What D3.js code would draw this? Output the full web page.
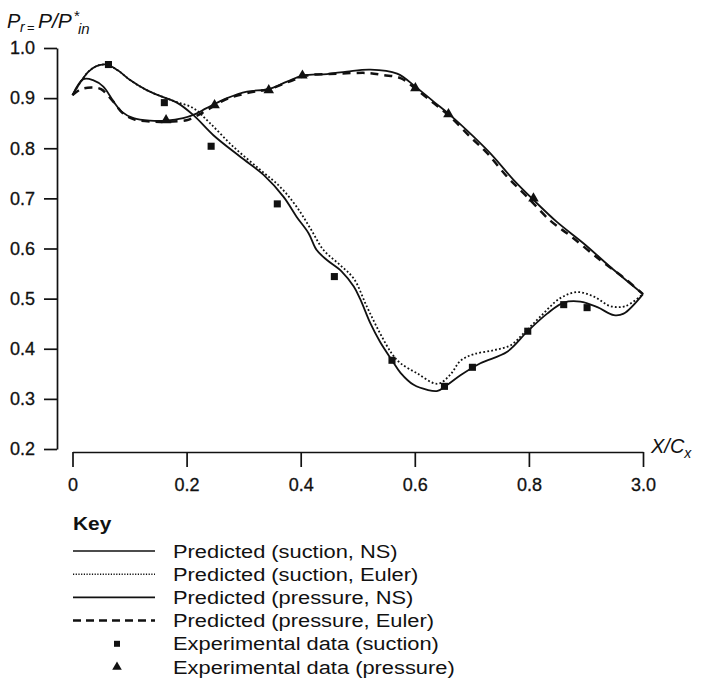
<!DOCTYPE html>
<html>
<head>
<meta charset="utf-8">
<script src="https://cdn.jsdelivr.net/npm/d3@7"></script>
<style>
  body { margin: 0; background: #fff; }
  svg { font-family: "Liberation Sans", Arial, Helvetica, sans-serif; }
</style>
</head>
<body>
<div id="chart"></div>
<script>
// ---- data: [X/Cx, Pr] ----
const suctionNS = [
  [0, 0.906], [0.013, 0.930], [0.028, 0.953], [0.042, 0.964], [0.060, 0.967], [0.080, 0.955],
  [0.101, 0.936], [0.130, 0.916], [0.159, 0.902], [0.183, 0.891], [0.212, 0.866], [0.247, 0.826],
  [0.294, 0.783], [0.335, 0.747], [0.370, 0.703], [0.393, 0.663], [0.414, 0.630], [0.428, 0.597],
  [0.446, 0.577], [0.472, 0.554], [0.493, 0.524], [0.504, 0.500], [0.522, 0.451], [0.539, 0.414],
  [0.560, 0.377], [0.575, 0.352], [0.598, 0.328], [0.622, 0.318], [0.640, 0.316], [0.656, 0.327],
  [0.680, 0.347], [0.715, 0.371], [0.762, 0.394], [0.797, 0.434], [0.832, 0.470], [0.861, 0.492],
  [0.890, 0.494], [0.920, 0.483], [0.949, 0.467], [0.966, 0.470], [1.0, 0.509]
];
const suctionEuler = [
  [0, 0.906], [0.013, 0.930], [0.028, 0.953], [0.042, 0.964], [0.060, 0.967], [0.080, 0.955],
  [0.101, 0.936], [0.130, 0.916], [0.159, 0.902], [0.183, 0.892], [0.212, 0.880], [0.241, 0.850],
  [0.282, 0.803], [0.329, 0.757], [0.364, 0.723], [0.393, 0.683], [0.417, 0.640], [0.440, 0.597],
  [0.469, 0.567], [0.493, 0.540], [0.516, 0.484], [0.539, 0.431], [0.560, 0.390], [0.575, 0.371],
  [0.604, 0.351], [0.640, 0.330], [0.662, 0.348], [0.680, 0.376], [0.703, 0.389], [0.738, 0.397],
  [0.768, 0.407], [0.791, 0.431], [0.820, 0.464], [0.855, 0.501], [0.885, 0.513], [0.914, 0.504],
  [0.943, 0.485], [0.969, 0.485], [1.0, 0.509]
];
const pressureNS = [
  [0, 0.906], [0.019, 0.938], [0.036, 0.936], [0.054, 0.923], [0.072, 0.893], [0.086, 0.873],
  [0.107, 0.860], [0.136, 0.855], [0.164, 0.855], [0.194, 0.860], [0.215, 0.868], [0.235, 0.880],
  [0.271, 0.900], [0.306, 0.913], [0.344, 0.918], [0.376, 0.933], [0.403, 0.945], [0.446, 0.948],
  [0.481, 0.953], [0.522, 0.957], [0.569, 0.949], [0.601, 0.923], [0.633, 0.893], [0.662, 0.866],
  [0.703, 0.823], [0.738, 0.783], [0.773, 0.737], [0.808, 0.697], [0.849, 0.653], [0.896, 0.610],
  [0.949, 0.557], [1.0, 0.509]
];
const pressureEuler = [
  [0, 0.906], [0.015, 0.918], [0.035, 0.921], [0.050, 0.918], [0.070, 0.895], [0.090, 0.868],
  [0.110, 0.857], [0.140, 0.853], [0.170, 0.853], [0.200, 0.856], [0.220, 0.866], [0.240, 0.879],
  [0.270, 0.898], [0.310, 0.911], [0.345, 0.918], [0.380, 0.933], [0.410, 0.945], [0.450, 0.948],
  [0.490, 0.950], [0.520, 0.950], [0.545, 0.946], [0.575, 0.940], [0.604, 0.916], [0.633, 0.890],
  [0.662, 0.863], [0.697, 0.823], [0.727, 0.790], [0.762, 0.743], [0.797, 0.703], [0.838, 0.655],
  [0.873, 0.625], [0.925, 0.577], [0.966, 0.542], [1.0, 0.509]
];
const expSuction = [
  [0.063, 0.967], [0.161, 0.891], [0.243, 0.804], [0.359, 0.689], [0.459, 0.544], [0.560, 0.377],
  [0.652, 0.325], [0.701, 0.363], [0.798, 0.435], [0.861, 0.488], [0.902, 0.482]
];
const expPressure = [
  [0.164, 0.856], [0.249, 0.886], [0.344, 0.916], [0.403, 0.945], [0.601, 0.920], [0.659, 0.868],
  [0.808, 0.700]
];
const xTicks = [0, 0.2, 0.4, 0.6, 0.8, 1.0];
const xTickLabels = ["0", "0.2", "0.4", "0.6", "0.8", "3.0"];
const yTicks = [0.2, 0.3, 0.4, 0.5, 0.6, 0.7, 0.8, 0.9, 1.0];
const legendLabels = [
  "Predicted (suction, NS)", "Predicted (suction, Euler)", "Predicted (pressure, NS)",
  "Predicted (pressure, Euler)", "Experimental data (suction)", "Experimental data (pressure)"
];

// ---- layout ----
const width = 701, height = 682;
const svg = d3.select("#chart").append("svg")
  .attr("width", width).attr("height", height);

const x = d3.scaleLinear().domain([0, 1]).range([72.5, 643]);
const y = d3.scaleLinear().domain([0.2, 1.0]).range([449, 48]);
const yAxisX = 57, xAxisY = 452;

// y axis
svg.append("g")
  .attr("transform", `translate(${yAxisX},0)`)
  .call(d3.axisLeft(y).tickValues(yTicks).tickFormat(d3.format(".1f"))
    .tickSize(13).tickSizeOuter(0).tickPadding(9));
// x axis
svg.append("g")
  .attr("transform", `translate(0,${xAxisY})`)
  .call(d3.axisBottom(x).tickValues(xTicks).tickFormat((d, i) => xTickLabels[i])
    .tickSize(15).tickSizeOuter(0).tickPadding(11));

svg.selectAll(".domain, .tick line").attr("stroke", "#111").attr("stroke-width", 1.7);
svg.selectAll(".tick text").attr("font-size", 18).attr("fill", "#111")
  .attr("stroke", "#111").attr("stroke-width", 0.3)
  .attr("font-family", "'Liberation Sans', Arial, sans-serif");

// axis titles (each piece placed on its own so nothing collides)
const titleParts = [
  {t: "P", x: 7, y: 28, s: 20, it: true},
  {t: "r", x: 20, y: 32, s: 14, it: true},
  {t: "=", x: 27, y: 32, s: 13, it: false},
  {t: "P/P", x: 38, y: 28, s: 21, it: true},
  {t: "*", x: 74, y: 21, s: 15, it: false},
  {t: "in", x: 78, y: 34, s: 15, it: true}
];
svg.append("g").selectAll("text").data(titleParts).join("text")
  .attr("x", d => d.x).attr("y", d => d.y)
  .attr("font-size", d => d.s).attr("font-style", d => d.it ? "italic" : "normal")
  .attr("fill", "#111").text(d => d.t);

const xt = svg.append("text").attr("x", 651).attr("y", 453)
  .attr("font-size", 20).attr("font-style", "italic").attr("fill", "#111");
xt.append("tspan").text("X/C");
xt.append("tspan").attr("font-size", 14).attr("dy", 5).text("x");

// ---- curves ----
const line = d3.line().x(d => x(d[0])).y(d => y(d[1])).curve(d3.curveCatmullRom.alpha(0.5));

const series = [
  {data: suctionEuler, dash: "1.8,2.2", w: 1.8},
  {data: pressureEuler, dash: "8,6", w: 2.5},
  {data: suctionNS, dash: null, w: 1.8},
  {data: pressureNS, dash: null, w: 1.8}
];
svg.append("g").selectAll("path").data(series).join("path")
  .attr("d", d => line(d.data))
  .attr("fill", "none").attr("stroke", "#111")
  .attr("stroke-width", d => d.w)
  .attr("stroke-dasharray", d => d.dash);

// ---- experimental markers ----
svg.append("g").selectAll("path").data(expSuction).join("path")
  .attr("transform", d => `translate(${x(d[0])},${y(d[1])})`)
  .attr("d", d3.symbol(d3.symbolSquare, 50))
  .attr("fill", "#111");
svg.append("g").selectAll("path").data(expPressure).join("path")
  .attr("transform", d => `translate(${x(d[0])},${y(d[1])})`)
  .attr("d", d3.symbol(d3.symbolTriangle, 48))
  .attr("fill", "#111");

// ---- key ----
const key = svg.append("g");
key.append("text").attr("transform", "translate(73,523) scale(1.1,1)").attr("dy", "0.35em")
  .attr("font-size", 19).attr("font-weight", "bold").attr("fill", "#111").text("Key");

const rowY = d3.scalePoint().domain(d3.range(6)).range([551, 667]);
const legendStyle = [
  {type: "line", dash: null, w: 1.6},
  {type: "line", dash: "1.2,1.5", w: 1.4},
  {type: "line", dash: null, w: 1.6},
  {type: "line", dash: "8,5", w: 2.5},
  {type: "square"},
  {type: "triangle"}
];
const rows = key.selectAll("g.row").data(legendLabels).join("g").attr("class", "row")
  .attr("transform", (d, i) => `translate(0,${rowY(i)})`);
rows.each(function (d, i) {
  const g = d3.select(this), s = legendStyle[i];
  if (s.type === "line") {
    g.append("line").attr("x1", 73).attr("x2", 155).attr("y1", 0).attr("y2", 0)
      .attr("stroke", "#111").attr("stroke-width", s.w).attr("stroke-dasharray", s.dash);
  } else {
    g.append("path").attr("transform", "translate(117,0)")
      .attr("d", d3.symbol(s.type === "square" ? d3.symbolSquare : d3.symbolTriangle, s.type === "square" ? 36 : 40))
      .attr("fill", "#111");
  }
  g.append("text").attr("transform", "translate(173,0) scale(1.15,1)").attr("dy", "0.35em")
    .attr("font-size", 19).attr("fill", "#111").text(d);
});
</script>
</body>
</html>
